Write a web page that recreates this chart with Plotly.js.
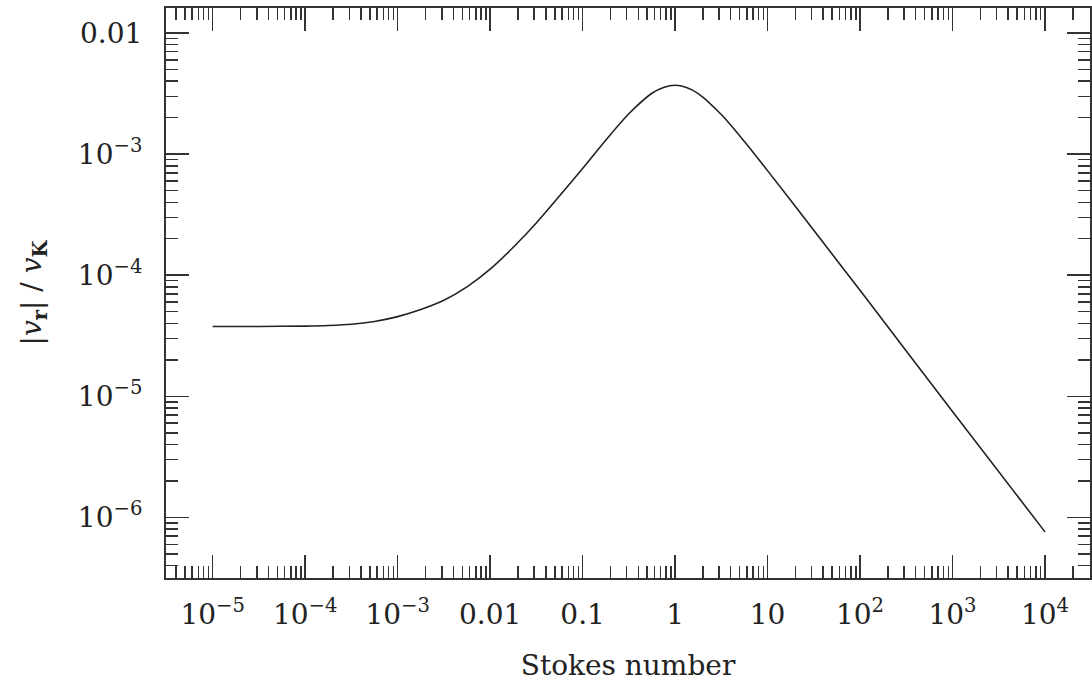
<!DOCTYPE html>
<html>
<head>
<meta charset="utf-8">
<script src="https://cdn.plot.ly/plotly-3.0.1.min.js"></script>
<style>html,body{margin:0;padding:0;background:#fff;}#chart{width:1092px;height:688px;}</style>
</head>
<body>
<div id="chart"></div>
<script>
// Stokes number (x) and |v_r|/v_K (y)
const stokes = [1e-5, 3.16e-5, 1e-4, 1.78e-4, 3.16e-4, 5.62e-4, 1e-3, 1.78e-3, 3.16e-3, 5.62e-3, 0.01, 0.0178, 0.0316, 0.0562, 0.1, 0.178, 0.316, 0.562, 0.75, 1, 1.33, 1.78, 3.16, 5.62, 10, 31.6, 100, 1000, 10000];
const vr = [3.77e-5, 3.775e-5, 3.8e-5, 3.84e-5, 3.93e-5, 4.15e-5, 4.55e-5, 5.2e-5, 6.2e-5, 8.0e-5, 1.12e-4, 1.7e-4, 2.7e-4, 4.5e-4, 7.6e-4, 1.3e-3, 2.15e-3, 3.18e-3, 3.55e-3, 3.7e-3, 3.55e-3, 3.16e-3, 2.12e-3, 1.27e-3, 7.3e-4, 2.35e-4, 7.5e-5, 7.5e-6, 7.6e-7];

const xTickVals = [1e-5, 1e-4, 1e-3, 0.01, 0.1, 1, 10, 100, 1000, 10000];
const xTickText = ["10<sup>−5</sup>", "10<sup>−4</sup>", "10<sup>−3</sup>", "0.01", "0.1", "1", "10", "10<sup>2</sup>", "10<sup>3</sup>", "10<sup>4</sup>"];
const yTickVals = [1e-6, 1e-5, 1e-4, 1e-3, 0.01];
const yTickText = ["10<sup>−6</sup>", "10<sup>−5</sup>", "10<sup>−4</sup>", "10<sup>−3</sup>", "0.01"];

const fontFam = "DejaVu Serif, Liberation Serif, serif";
const axCol = "#333";

const trace = {
  x: stokes, y: vr, type: "scatter", mode: "lines",
  line: {color: "#222", width: 1.6, shape: "spline", smoothing: 0.8},
  hoverinfo: "skip"
};

const common = {
  type: "log",
  showgrid: false, zeroline: false,
  showline: true, linecolor: axCol, linewidth: 2,
  mirror: "allticks",
  ticks: "inside", ticklen: 23, tickwidth: 1.5, tickcolor: axCol,
  tickmode: "array",
  tickfont: {family: fontFam, size: 28, color: "#222"},
  minor: {ticks: "inside", ticklen: 12, tickwidth: 1.5, tickcolor: axCol, dtick: "D1", showgrid: false}
};

const layout = {
  width: 1092, height: 688,
  margin: {l: 166, r: 2, t: 8, b: 110},
  paper_bgcolor: "#fff", plot_bgcolor: "#fff",
  showlegend: false,
  xaxis: Object.assign({}, common, {
    range: [-5.505, 4.487],
    tickvals: xTickVals, ticktext: xTickText,
    ticklabelstandoff: 10,
    title: {text: "Stokes number", font: {family: fontFam, size: 28, color: "#222"}, standoff: 26}
  }),
  yaxis: Object.assign({}, common, {
    range: [-6.5, -1.794],
    tickvals: yTickVals, ticktext: yTickText,
    ticklabelstandoff: 16,
    title: {text: "|<i>v</i><sub><b>r</b></sub>| / <i>v</i><sub><b>K</b></sub>", font: {family: fontFam, size: 28, color: "#222"}, standoff: 28}
  })
};

Plotly.newPlot("chart", [trace], layout, {displayModeBar: false, staticPlot: true});
</script>
</body>
</html>
